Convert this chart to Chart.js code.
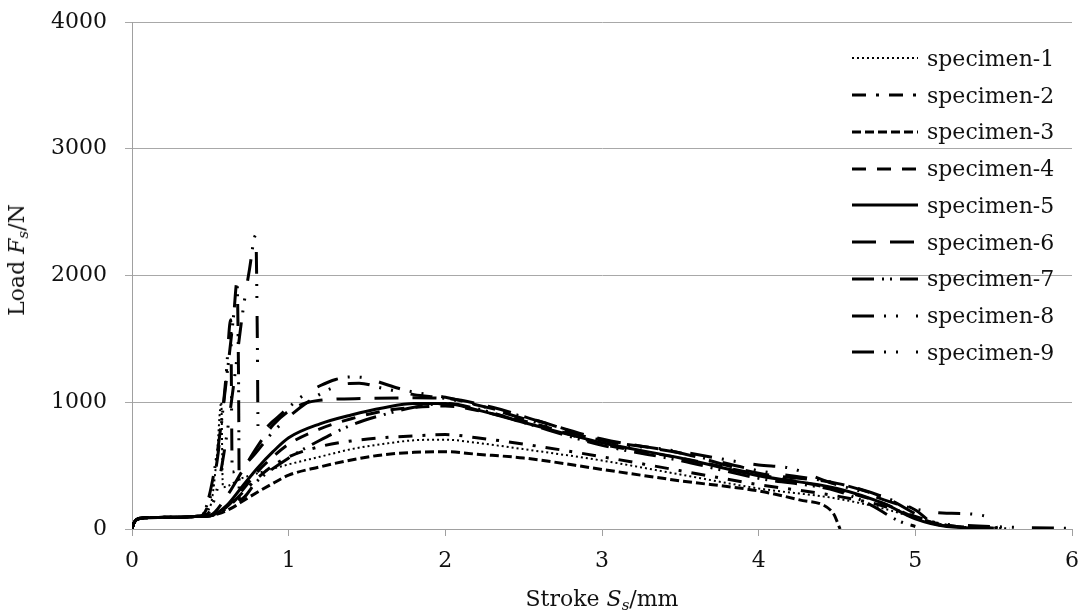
<!DOCTYPE html>
<html>
<head>
<meta charset="utf-8">
<script src="https://cdn.jsdelivr.net/npm/chart.js@4/dist/chart.umd.min.js"></script>
<style>
  body { margin: 0; background: #fff; }
  #wrap { position: relative; width: 1084px; height: 616px; font-family: "DejaVu Serif", serif; color: #111; }
  #legend { position: absolute; left: 852px; top: 40px; }
  #legend .row { height: 36.75px; display: flex; align-items: center; font-size: 22px; }
  #legend svg { width: 66px; height: 10px; margin-right: 9px; }
  .xtitle { position: absolute; left: 0; width: 1204px; top: 586px; text-align: center; font-size: 22px; }
  .ytitle { position: absolute; left: 18px; top: 260px; font-size: 22px; white-space: nowrap;
            transform: translate(-50%, -50%) rotate(-90deg); }
  sub { font-size: 15px; vertical-align: -4px; font-style: italic; }
</style>
</head>
<body>
<div id="wrap">
  <canvas id="myChart" width="1084" height="616"></canvas>
  <div id="legend"></div>
  <div class="xtitle">Stroke <i>S</i><sub>s</sub>/mm</div>
  <div class="ytitle">Load <i>F</i><sub>s</sub>/N</div>
</div>
<script>
// stroke (mm) and load (N), one pair of arrays per specimen
let start_x = [0, 0.01, 0.03, 0.08, 0.2, 0.35, 0.42];
let start_y = [0, 40, 75, 88, 92, 95, 100];

let stroke1 = [0.5, 0.54, 0.57, 0.58, 0.7, 0.8, 1.0, 1.2, 1.4, 1.6, 1.8, 2.0, 2.2, 2.5, 3.0, 3.5, 4.0, 4.5, 4.8, 5.0, 5.2, 5.6];
let load1 = [180, 550, 1000, 330, 400, 440, 510, 570, 630, 670, 700, 705, 680, 630, 540, 430, 320, 240, 160, 90, 30, 5];

let stroke2 = [0.5, 0.6, 0.7, 0.8, 0.9, 1.0, 1.2, 1.4, 1.6, 1.8, 2.0, 2.2, 2.5, 3.0, 3.5, 4.0, 4.5, 4.8, 5.0, 5.2, 5.5];
let load2 = [105, 160, 280, 400, 500, 570, 650, 695, 720, 735, 745, 720, 670, 570, 460, 350, 260, 180, 100, 30, 5];

let stroke3 = [0.45, 0.55, 0.65, 0.7, 0.8, 0.9, 1.0, 1.2, 1.4, 1.6, 1.8, 2.0, 2.2, 2.5, 3.0, 3.5, 4.0, 4.26, 4.47, 4.52];
let load3 = [100, 120, 175, 215, 290, 360, 425, 490, 545, 585, 605, 610, 590, 560, 470, 380, 300, 230, 135, 0];

let stroke4 = [0.5, 0.6, 0.7, 0.8, 0.9, 1.0, 1.2, 1.4, 1.6, 1.8, 2.0, 2.3, 2.6, 3.0, 3.5, 4.0, 4.5, 4.8, 5.0, 5.2, 5.5];
let load4 = [105, 170, 300, 450, 570, 670, 790, 870, 930, 960, 970, 910, 820, 670, 560, 430, 310, 200, 90, 30, 5];

let stroke5 = [0.5, 0.6, 0.7, 0.8, 0.9, 1.0, 1.2, 1.4, 1.6, 1.8, 2.0, 2.2, 2.5, 3.0, 3.5, 4.0, 4.5, 4.8, 5.0, 5.2, 5.5];
let load5 = [105, 180, 330, 480, 610, 720, 830, 900, 955, 990, 990, 940, 840, 680, 560, 420, 320, 200, 80, 20, 5];

let stroke6 = [0.5, 0.6, 0.7, 0.8, 0.9, 1.0, 1.1, 1.2, 1.5, 1.8, 2.0, 2.3, 2.6, 3.0, 3.5, 4.0, 4.5, 4.8, 5.0, 5.1, 5.3];
let load6 = [110, 250, 450, 650, 820, 930, 990, 1015, 1030, 1035, 1030, 960, 850, 710, 600, 440, 360, 250, 120, 50, 10];

let stroke7 = [0.45, 0.5, 0.55, 0.6, 0.65, 0.67, 0.68, 0.685, 0.8, 1.0, 1.2, 1.4, 1.6, 1.8, 2.0, 2.2, 2.5, 3.0, 3.5, 4.0, 4.5, 4.7, 4.9, 5.0];
let load7 = [110, 300, 650, 1150, 1700, 1950, 1200, 230, 380, 560, 700, 820, 900, 960, 990, 950, 840, 660, 540, 400, 300, 200, 60, 20];

let stroke8 = [0.45, 0.5, 0.55, 0.6, 0.65, 0.7, 0.75, 0.79, 0.8, 0.805, 0.9, 1.0, 1.1, 1.2, 1.3, 1.4, 1.5, 1.6, 1.7, 1.8, 2.0, 2.2, 2.5, 2.8, 3.0, 3.5, 4.0, 4.2, 4.47, 4.67, 4.8, 5.03, 5.2, 5.5, 5.52];
let load8 = [100, 150, 350, 700, 1150, 1650, 2050, 2320, 1500, 760, 850, 960, 1060, 1130, 1180, 1200, 1190, 1150, 1110, 1080, 1040, 980, 870, 760, 700, 610, 505, 480, 360, 290, 230, 150, 125, 85, 0];

let stroke9 = [0.45, 0.5, 0.55, 0.6, 0.63, 0.64, 0.75, 0.9, 1.12, 1.33, 1.45, 1.6, 1.8, 2.0, 2.3, 2.6, 3.0, 3.5, 4.0, 4.5, 4.8, 5.0, 5.1, 5.3, 5.6, 6.0];
let load9 = [110, 250, 600, 1200, 1650, 450, 545, 765, 1000, 1136, 1150, 1110, 1060, 1030, 950, 850, 700, 600, 460, 360, 250, 150, 60, 30, 15, 5];

let strokes = [stroke1, stroke2, stroke3, stroke4, stroke5, stroke6, stroke7, stroke8, stroke9];
let loads = [load1, load2, load3, load4, load5, load6, load7, load8, load9];
let names = ['specimen-1', 'specimen-2', 'specimen-3', 'specimen-4', 'specimen-5',
             'specimen-6', 'specimen-7', 'specimen-8', 'specimen-9'];
let dashes = [[2, 3], [14, 10, 3, 10], [9, 4], [14, 11], [], [24, 14],
              [22, 8, 2, 6, 2, 8], [22, 10, 2, 10, 2, 18], [22, 10, 2, 10, 2, 18]];

let datasets = names.map((name, i) => {
    let xs = start_x.concat(strokes[i]);
    let ys = start_y.concat(loads[i]);
    return {
        label: name,
        data: xs.map((x, k) => ({x: x, y: ys[k]})),
        borderColor: '#000',
        borderWidth: i == 0 ? 2 : 3,
        borderDash: dashes[i],
        pointRadius: 0,
        showLine: true,
        cubicInterpolationMode: 'monotone',
        fill: false
    };
});

// legend drawn as html so it sits inside the plot like the original
let legend = document.getElementById('legend');
datasets.forEach(ds => {
    let row = document.createElement('div');
    row.className = 'row';
    row.innerHTML = '<svg viewBox="0 0 66 10"><line x1="0" y1="5" x2="66" y2="5" stroke="#000" stroke-width="' +
        ds.borderWidth + '" stroke-dasharray="' + (ds.borderDash.length ? ds.borderDash.join(' ') : 'none') +
        '"/></svg><span>' + ds.label + '</span>';
    legend.appendChild(row);
});

let tickFont = {family: 'DejaVu Serif', size: 22};

let ctx = document.getElementById('myChart').getContext('2d');
let myChart = new Chart(ctx, {
    type: 'scatter',
    data: { datasets: datasets },
    options: {
        responsive: false,
        animation: false,
        layout: { padding: { left: 40, right: 12, top: 22, bottom: 28 } },
        plugins: {
            legend: { display: false },
            tooltip: { enabled: false }
        },
        scales: {
            x: {
                type: 'linear',
                min: 0, max: 6,
                ticks: { stepSize: 1, color: '#111', font: tickFont, padding: 12, callback: v => String(v) },
                grid: { drawOnChartArea: false, tickLength: 7, color: '#a0a0a0' },
                border: { color: '#a0a0a0' },
                afterFit: s => { s.height = 59; s.paddingLeft = 0; s.paddingRight = 0; }
            },
            y: {
                min: 0, max: 4000,
                ticks: { stepSize: 1000, color: '#111', font: tickFont, padding: 18, callback: v => String(v) },
                grid: { tickLength: 7, color: '#a8a8a8' },
                border: { color: '#a0a0a0' },
                afterFit: s => { s.width = 92; s.paddingTop = 0; s.paddingBottom = 0; }
            }
        }
    }
});
</script>
</body>
</html>
